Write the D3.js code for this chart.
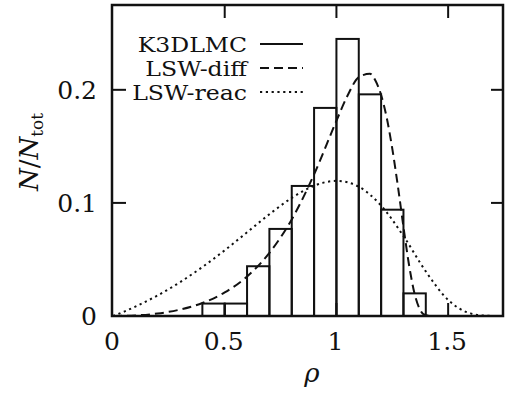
<!DOCTYPE html>
<html lang="en">
<head>
  <meta charset="UTF-8">
  <title>Size distribution</title>
  <script src="https://d3js.org/d3.v7.min.js"></script>
  <style>
    body { margin: 0; background: #fff; }
    svg text {
      font-family: 'DejaVu Serif', 'Liberation Serif', 'Noto Serif', 'Times New Roman', serif;
      fill: #111;
    }
    .bar {
      fill: none;
      stroke: #111;
      stroke-width: 2px;
    }
    .curve {
      fill: none;
      stroke: #111;
      stroke-width: 2px;
    }
  </style>
</head>
<body>
  <script>
    // histogram (K3DLMC), bin width 0.1
    const binStart = [0.4, 0.5, 0.6, 0.7, 0.8, 0.9, 1.0, 1.1, 1.2, 1.3];
    const binValue = [0.011, 0.011, 0.044, 0.077, 0.115, 0.184, 0.245, 0.196, 0.094, 0.020];

    // LSW-diff curve
    const diffRho = [0, 0.1, 0.2, 0.3, 0.4, 0.5, 0.6, 0.7, 0.8, 0.9, 1.0, 1.05, 1.1, 1.15, 1.175,
                     1.2, 1.225, 1.25, 1.275, 1.3, 1.325, 1.35, 1.375, 1.4, 1.45, 1.5];
    const diffVal = [0, 0.0005, 0.0022, 0.0057, 0.0115, 0.0208, 0.0349, 0.0558, 0.0854, 0.1253,
                     0.1726, 0.195, 0.2111, 0.2142, 0.208, 0.1954, 0.1754, 0.148, 0.1148, 0.0788,
                     0.0451, 0.0195, 0.0053, 0.0006, 0, 0];

    // LSW-reac curve
    const reacRho = [0, 0.05, 0.1, 0.2, 0.3, 0.4, 0.5, 0.6, 0.7, 0.8, 0.9, 1.0, 1.1, 1.2, 1.3,
                     1.4, 1.5, 1.55, 1.6, 1.65, 1.7, 1.75];
    const reacVal = [0, 0.0039, 0.0083, 0.0182, 0.0299, 0.0433, 0.0581, 0.0740, 0.0900, 0.1044,
                     0.1152, 0.1195, 0.1143, 0.0976, 0.0707, 0.0394, 0.0142, 0.0066, 0.0023,
                     0.0005, 0.0001, 0];

    const xTicks = [0, 0.5, 1, 1.5];
    const yTicks = [0, 0.1, 0.2];
    const legendNames = ['K3DLMC', 'LSW-diff', 'LSW-reac'];

    const width = 505, height = 397;
    const x = d3.scaleLinear().domain([0, 1.75]).range([113, 504]);
    const y = d3.scaleLinear().domain([0, 0.275]).range([316, 5]);

    const svg = d3.select('body').append('svg')
      .attr('width', width)
      .attr('height', height);

    // bars
    svg.append('g').selectAll('rect')
      .data(binStart)
      .enter().append('rect')
      .attr('class', 'bar')
      .attr('x', d => x(d))
      .attr('width', d => x(d + 0.1) - x(d))
      .attr('y', (d, i) => y(binValue[i]))
      .attr('height', (d, i) => y(0) - y(binValue[i]));

    const line = d3.line()
      .x(d => x(d[0]))
      .y(d => y(d[1]))
      .curve(d3.curveMonotoneX);

    svg.append('path')
      .attr('class', 'curve')
      .attr('stroke-dasharray', '9,5')
      .attr('d', line(diffRho.map((r, i) => [r, diffVal[i]])));

    svg.append('path')
      .attr('class', 'curve')
      .attr('stroke-width', 2.2)
      .attr('stroke-dasharray', '2.2,3.6')
      .attr('d', line(reacRho.map((r, i) => [r, reacVal[i]])));

    // frame and inward ticks
    const axisG = svg.append('g').attr('stroke', '#111').attr('stroke-width', 2);
    const tl = 13;
    xTicks.slice(1).forEach(t => {
      axisG.append('line').attr('x1', x(t)).attr('x2', x(t)).attr('y1', y(0)).attr('y2', y(0) - tl);
      axisG.append('line').attr('x1', x(t)).attr('x2', x(t)).attr('y1', y(0.275)).attr('y2', y(0.275) + tl);
    });
    yTicks.slice(1).forEach(t => {
      axisG.append('line').attr('x1', x(0)).attr('x2', x(0) + tl).attr('y1', y(t)).attr('y2', y(t));
      axisG.append('line').attr('x1', x(1.75)).attr('x2', x(1.75) - tl).attr('y1', y(t)).attr('y2', y(t));
    });
    svg.append('rect')
      .attr('x', x(0) - 1).attr('y', y(0.275))
      .attr('width', x(1.75) - x(0)).attr('height', y(0) - y(0.275))
      .attr('fill', 'none').attr('stroke', '#111').attr('stroke-width', 2.5);

    // tick labels
    svg.append('g').selectAll('text')
      .data(xTicks)
      .enter().append('text')
      .attr('x', d => x(d) - 1)
      .attr('y', 350)
      .attr('text-anchor', 'middle')
      .attr('font-size', 25)
      .text(d => d);

    svg.append('g').selectAll('text')
      .data(yTicks)
      .enter().append('text')
      .attr('x', 97)
      .attr('y', d => y(d) + 9)
      .attr('text-anchor', 'end')
      .attr('font-size', 25)
      .text(d => d);

    // axis titles
    svg.append('text')
      .attr('x', 312).attr('y', 382)
      .attr('text-anchor', 'middle')
      .attr('font-size', 26)
      .attr('font-style', 'italic')
      .text('ρ');

    const yl = svg.append('text')
      .attr('transform', 'translate(38,152) rotate(-90)')
      .attr('text-anchor', 'middle')
      .attr('font-size', 26);
    yl.append('tspan').attr('font-style', 'italic').text('N');
    yl.append('tspan').text('/');
    yl.append('tspan').attr('font-style', 'italic').text('N');
    yl.append('tspan').attr('font-size', 17).attr('dy', 5).text('tot');

    // legend (glyphs stretched a bit wider, like the reference)
    const dashes = [null, '9,5', '2.2,3.6'];
    legendNames.forEach((name, i) => {
      const ly = 44 + i * 24;
      const t = svg.append('text')
        .attr('x', 247).attr('y', ly + 8)
        .attr('text-anchor', 'end')
        .attr('font-size', 20.5)
        .text(name);
      const len = t.node().getComputedTextLength();
      t.attr('textLength', len * 1.15).attr('lengthAdjust', 'spacingAndGlyphs');
      svg.append('line')
        .attr('x1', 260).attr('x2', 303)
        .attr('y1', ly).attr('y2', ly)
        .attr('stroke', '#111').attr('stroke-width', 2)
        .attr('stroke-dasharray', dashes[i]);
    });
  </script>
</body>
</html>
